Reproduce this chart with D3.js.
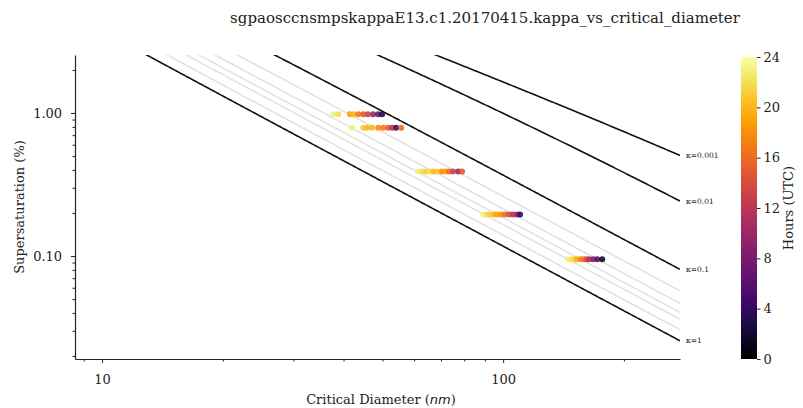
<!DOCTYPE html>
<html>
<head>
<meta charset="utf-8">
<script src="https://cdn.jsdelivr.net/npm/d3@7"></script>
<style>
  html, body { margin: 0; padding: 0; background: #fff; }
  svg text { font-family: "DejaVu Serif", serif; fill: #222; }
</style>
</head>
<body>
<svg id="chart" width="803" height="408"></svg>
<script>
// CCN kappa closure: critical supersaturation vs critical dry diameter, coloured by hour (UTC)
const chartTitle = "sgpaosccnsmpskappaE13.c1.20170415.kappa_vs_critical_diameter";

// Reference kappa isolines
const kappaLabelled = [0.001, 0.01, 0.1, 1];
const kappaFaint = [0.2, 0.3, 0.4, 0.5, 0.7];

// Observations at each supersaturation setpoint (%), critical diameter (nm) and hour
const ss1 = 0.98;
const diam1 = [37.7, 38.8, 41.5, 42.3, 43.5, 44.8, 46.0, 47.4, 48.8, 49.9];
const hour1 = [23, 22, 19, 20, 17, 15, 13, 10, 7, 3];

const ss2 = 0.79;
const diam2 = [42.0, 44.8, 45.8, 47.1, 48.8, 50.2, 51.7, 52.9, 54.1, 55.7];
const hour2 = [23, 21, 20, 20, 18, 17, 15, 12, 5, 16];

const ss3 = 0.39;
const diam3 = [61.4, 62.8, 64.2, 65.8, 67.2, 68.7, 70.4, 71.9, 73.3, 75.0, 77.3, 79.0];
const hour3 = [23, 22, 21, 22, 20, 21, 18, 19, 16, 13, 10, 15];

const ss4 = 0.195;
const diam4 = [89.2, 91.2, 92.8, 95.0, 96.6, 98.9, 101.2, 103.6, 105.9, 108.4, 110.2];
const hour4 = [23, 22, 21, 20, 19, 18, 16, 14, 12, 9, 4];

const ss5 = 0.095;
const diam5 = [145.2, 148.6, 152.1, 155.6, 158.3, 161.1, 163.9, 167.7, 171.6, 176.6];
const hour5 = [23, 22, 20, 18, 17, 14, 11, 9, 6, 2];

const xTickValues = [10, 100];
const yTickValues = [0.1, 1];
const cbarTicks = [0, 4, 8, 12, 16, 20, 24];

const rows = [
  [ss1, diam1, hour1], [ss2, diam2, hour2], [ss3, diam3, hour3],
  [ss4, diam4, hour4], [ss5, diam5, hour5]
];
const points = [];
rows.forEach(([s, ds, hs]) => ds.forEach((d, i) => points.push({ d, s, h: hs[i] })));

// Kohler theory: critical supersaturation (%) for a dry diameter (nm) and hygroscopicity kappa
const A = 4 * 0.072 * 0.018015 / (8.314 * 298.15 * 997.0) * 1e9; // Kelvin length, nm
function criticalSS(dd, kappa) {
  const f = u => {
    const x = Math.exp(u);                 // x = (Dw/Dd)^3 - 1
    const dw = dd * Math.cbrt(1 + x);
    return Math.log(x / (x + kappa)) + A / dw;
  };
  let a = -25, b = 20;
  const g = (Math.sqrt(5) - 1) / 2;
  let c = b - g * (b - a), e = a + g * (b - a);
  let fc = f(c), fe = f(e);
  for (let i = 0; i < 120; i++) {
    if (fc > fe) { b = e; e = c; fe = fc; c = b - g * (b - a); fc = f(c); }
    else { a = c; c = e; fc = fe; e = a + g * (b - a); fe = f(e); }
  }
  return (Math.exp(Math.max(fc, fe)) - 1) * 100;
}

const svg = d3.select("#chart");
const m = { left: 75, right: 680, top: 55, bottom: 359 };

const x = d3.scaleLog().domain([8.56, 276]).range([m.left, m.right]);
const y = d3.scaleLog().domain([0.01905, 2.545]).range([m.bottom, m.top]);
const color = d3.scaleSequential(d3.interpolateInferno).domain([0, 24]);

svg.append("defs").append("clipPath").attr("id", "plotclip")
  .append("rect").attr("x", m.left).attr("y", m.top)
  .attr("width", m.right - m.left).attr("height", m.bottom - m.top);

// kappa curves
const dGrid = d3.range(0, 401).map(i => Math.exp(Math.log(8.56) + i / 400 * (Math.log(276) - Math.log(8.56))));
const line = d3.line().x(p => x(p[0])).y(p => y(p[1]));
const curves = svg.append("g").attr("clip-path", "url(#plotclip)");

kappaFaint.forEach(k => {
  curves.append("path")
    .attr("d", line(dGrid.map(d => [d, criticalSS(d, k)])))
    .attr("fill", "none").attr("stroke", "#e1e1e1").attr("stroke-width", 1.5);
});
kappaLabelled.forEach(k => {
  curves.append("path")
    .attr("d", line(dGrid.map(d => [d, criticalSS(d, k)])))
    .attr("fill", "none").attr("stroke", "#111").attr("stroke-width", 1.6);
});
kappaLabelled.forEach(k => {
  const dEnd = x.domain()[1];
  svg.append("text")
    .attr("x", x(dEnd) + 6).attr("y", y(criticalSS(dEnd, k)))
    .attr("dy", "0.35em").attr("font-size", 7.5)
    .text("κ=" + k);
});

// observations
svg.append("g").selectAll("circle").data(points).join("circle")
  .attr("cx", p => x(p.d)).attr("cy", p => y(p.s)).attr("r", 3)
  .attr("fill", p => color(p.h)).attr("fill-opacity", 0.9);

// axes
const xAxis = d3.axisBottom(x)
  .tickValues(x.ticks().filter(t => t >= 8.56 && t <= 276))
  .tickFormat(t => xTickValues.includes(t) ? String(t) : "")
  .tickSizeOuter(0);
const gx = svg.append("g").attr("transform", `translate(0,${m.bottom})`).call(xAxis);
gx.selectAll(".tick line").attr("y2", t => xTickValues.includes(t) ? 4 : 2.5);
gx.selectAll(".tick text").attr("font-size", 13).attr("dy", "1.25em");

const yAxis = d3.axisLeft(y)
  .tickValues(y.ticks().filter(t => t >= 0.01905 && t <= 2.545))
  .tickFormat(t => yTickValues.some(v => Math.abs(v - t) < 1e-9) ? d3.format(".2f")(t) : "")
  .tickSizeOuter(0);
const gy = svg.append("g").attr("transform", `translate(${m.left},0)`).call(yAxis);
gy.selectAll(".tick line").attr("x2", t => yTickValues.some(v => Math.abs(v - t) < 1e-9) ? -4 : -2.5);
gy.selectAll(".tick text").attr("font-size", 13).attr("dx", "-0.3em");

[gx, gy].forEach(g => {
  g.select(".domain").attr("stroke", "#222").attr("stroke-width", 1.2);
  g.selectAll(".tick line").attr("stroke", "#222");
  g.selectAll(".tick text").attr("font-family", "DejaVu Serif").attr("fill", "#222");
});

// axis titles
const xl = svg.append("text").attr("x", 381).attr("y", 404)
  .attr("text-anchor", "middle").attr("font-size", 13);
xl.append("tspan").text("Critical Diameter (");
xl.append("tspan").attr("font-family", "DejaVu Sans").attr("font-style", "italic").text("nm");
xl.append("tspan").text(")");

svg.append("text").attr("transform", "translate(24,207) rotate(-90)")
  .attr("text-anchor", "middle").attr("font-size", 13).text("Supersaturation (%)");

svg.append("text").attr("x", 485).attr("y", 23).attr("text-anchor", "middle")
  .attr("font-size", 15).text(chartTitle);

// colour bar
const cb = { x: 741, w: 16, top: 57, bottom: 359 };
const grad = svg.select("defs").append("linearGradient").attr("id", "cbgrad")
  .attr("x1", 0).attr("y1", 1).attr("x2", 0).attr("y2", 0);
d3.range(0, 1.0001, 0.05).forEach(t => {
  grad.append("stop").attr("offset", t).attr("stop-color", d3.interpolateInferno(t));
});
svg.append("rect").attr("x", cb.x).attr("y", cb.top).attr("width", cb.w)
  .attr("height", cb.bottom - cb.top).attr("fill", "url(#cbgrad)");
const cbScale = d3.scaleLinear().domain([0, 24]).range([cb.bottom, cb.top]);
const gc = svg.append("g").attr("transform", `translate(${cb.x + cb.w},0)`)
  .call(d3.axisRight(cbScale).tickValues(cbarTicks).tickSize(3.5).tickSizeOuter(0));
gc.select(".domain").remove();
gc.selectAll(".tick line").attr("stroke", "#222");
gc.selectAll(".tick text").attr("font-size", 13).attr("font-family", "DejaVu Serif").attr("fill", "#222");
svg.append("text").attr("transform", "translate(793,208) rotate(-90)")
  .attr("text-anchor", "middle").attr("font-size", 13).text("Hours (UTC)");
</script>
</body>
</html>
